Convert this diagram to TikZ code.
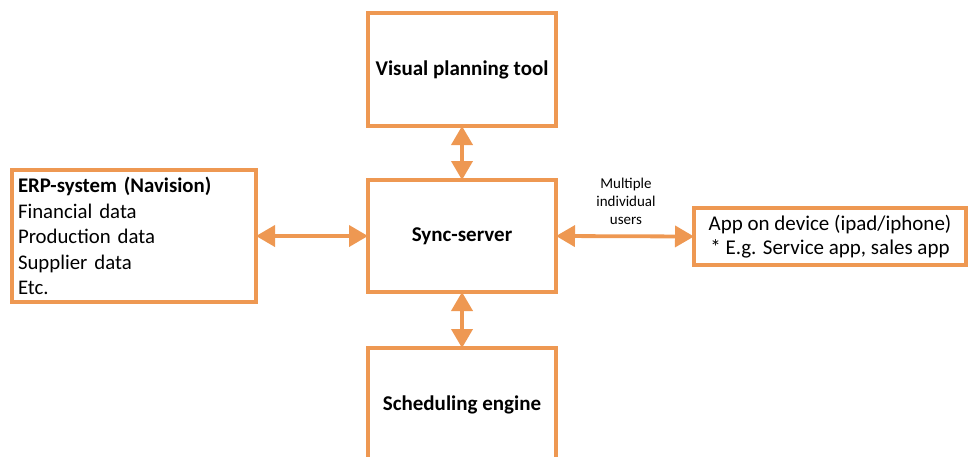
\documentclass[tikz,border=0pt]{standalone}
\usepackage{fontspec}
\setmainfont{Carlito}
\usetikzlibrary{arrows.meta}
\definecolor{boxorange}{RGB}{238,152,82}
\begin{document}
\begin{tikzpicture}[x=1pt,y=-1pt,
  box/.style={draw=boxorange,line width=3.8pt,fill=white,inner sep=0pt,outer sep=0pt},
  link/.style={draw=boxorange,line width=3.8pt,{Triangle[length=19pt,width=21pt]}-{Triangle[length=19pt,width=21pt]}},
  txt/.style={font=\fontsize{20.8}{25.5}\selectfont},
  btxt/.style={font=\fontsize{21}{25}\selectfont\bfseries}]
\useasboundingbox (0,0) rectangle (968,456);
\clip (0,0) rectangle (968,456);
\node[box,btxt,minimum width=188pt,minimum height=113pt] (vis) at (462,69.5) {Visual planning tool};
\node[box,btxt,minimum width=188pt,minimum height=112pt] (sync) at (462,236) {Sync-server};
\node[box,minimum width=188pt,minimum height=150pt] (sched) at (462,423) {};
\node[btxt] (schedt) at (462,405) {Scheduling engine};
\node[box,txt,align=left,text width=232pt,inner xsep=6pt,minimum height=132pt] (erp) at (134,236)
  {\textbf{ERP-system (Navision)}\\Financial data\\Production data\\Supplier data\\Etc.};
\node[box,font=\fontsize{21}{24}\selectfont,align=center,minimum width=272pt,minimum height=57pt] (app) at (830,236.5)
  {App on device (ipad/iphone)\\* E.g. Service app, sales app};
\node[font=\fontsize{15}{18}\selectfont,align=center] (lbl) at (626,201) {Multiple\\individual\\users};
\draw[link] (erp.east) -- (sync.west);
\draw[link] (sync.east) -- (app.west);
\draw[link] (vis.south) -- (sync.north);
\draw[link] (sync.south) -- (sched.north);
\end{tikzpicture}
\end{document}
